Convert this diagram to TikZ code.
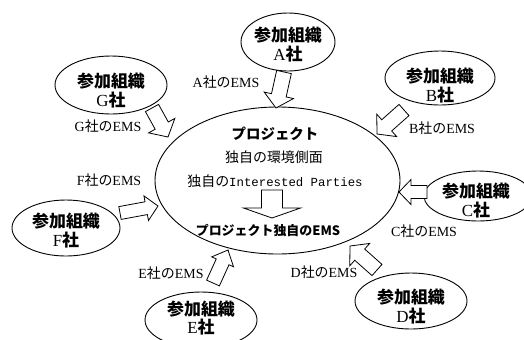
\documentclass[tikz,border=0pt]{standalone}
\usepackage{fontspec}
\setmainfont{Liberation Serif}
\newfontfamily\jp{Noto Sans CJK JP}
\newfontfamily\monofam{Liberation Mono}
\usetikzlibrary{shapes.geometric,calc}
\newcommand\jsha{{\jp 社}}
\newcommand\jno{{\jp の}}
\newcommand\bsha{{\jp\bfseries 社}}
\newcommand\sanka{{\jp\bfseries 参加組織}}
% block arrow: tail, tip, shaft half width, head half width, head length
\newcommand\blockarrow[5]{%
  \coordinate (ba-n) at ($(#2)!#5!(#1)$);
  \draw[barrow] ($(#1)!#3!90:(#2)$) -- ($(ba-n)!#3!-90:(#1)$) -- ($(ba-n)!#4!-90:(#1)$)
    -- (#2) -- ($(ba-n)!#4!90:(#1)$) -- ($(ba-n)!#3!90:(#1)$) -- ($(#1)!#3!-90:(#2)$) -- cycle;
}
\begin{document}
\begin{tikzpicture}[x=1bp,y=-1bp,
  org/.style={draw, ellipse, line width=0.9bp, inner sep=0pt},
  orgtxt/.style={font=\fontsize{17}{19}\selectfont, inner sep=0pt, align=center},
  lab/.style={font=\fontsize{14}{14}\selectfont, inner sep=0pt},
  ctxt/.style={inner sep=0pt},
  barrow/.style={draw, fill=white, line width=0.8bp, line join=miter}]
\useasboundingbox (0,0) rectangle (524,339);

% central ellipse
\node[org, minimum width=245bp, minimum height=147bp] (proj) at (277.5,180.5) {};
\node[ctxt, font=\jp\bfseries\fontsize{14.5}{14.5}\selectfont] (ptitle) at (275,134) {プロジェクト};
\node[ctxt, font=\jp\fontsize{14}{14}\selectfont] (aspect) at (274,157) {独自の環境側面};
\node[ctxt] (ip) at (275,181) {{\jp\fontsize{14}{14}\selectfont 独自の}{\monofam\fontsize{12.4}{14}\selectfont Interested Parties}};
\coordinate (cT) at (272,190);
\coordinate (cH) at (272,218);
\blockarrow{cT}{cH}{10.5bp}{28.5bp}{10bp}
\node[ctxt, font=\jp\bfseries\fontsize{13}{13}\selectfont] (pems) at (268,231) {プロジェクト独自のEMS};

% satellites
\node[org, minimum width=94bp, minimum height=58bp] (oA) at (288,42) {};
\node[orgtxt] (tA) at (288,45) {\sanka\\A\bsha};
\node[org, minimum width=110bp, minimum height=54bp] (oB) at (440,78) {};
\node[orgtxt] (tB) at (440,86) {\sanka\\B\bsha};
\node[org, minimum width=108bp, minimum height=50bp] (oC) at (478,196) {};
\node[orgtxt] (tC) at (476,201) {\sanka\\C\bsha};
\node[org, minimum width=112bp, minimum height=56bp] (oD) at (411,301) {};
\node[orgtxt] (tD) at (411,307) {\sanka\\D\bsha};
\node[org, minimum width=112bp, minimum height=56bp] (oE) at (201,320) {};
\node[orgtxt, font=\fontsize{17}{18}\selectfont] (tE) at (201,318) {\sanka\\E\bsha};
\node[org, minimum width=108bp, minimum height=56bp] (oF) at (66,228) {};
\node[orgtxt] (tF) at (66,231) {\sanka\\F\bsha};
\node[org, minimum width=112bp, minimum height=58bp] (oG) at (111,85) {};
\node[orgtxt] (tG) at (111,91) {\sanka\\G\bsha};

% labels
\node[lab] (lA) at (226,82) {A\jsha\jno EMS};
\node[lab] (lB) at (442,128) {B\jsha\jno EMS};
\node[lab] (lC) at (424,231) {C\jsha\jno EMS};
\node[lab] (lD) at (324,272) {D\jsha\jno EMS};
\node[lab] (lE) at (171,273) {E\jsha\jno EMS};
\node[lab] (lF) at (109,180) {F\jsha\jno EMS};
\node[lab] (lG) at (108,126) {G\jsha\jno EMS};

% arrows
\coordinate (aT) at (284,72);  \coordinate (aH) at (276,108);
\coordinate (bT) at (404,110); \coordinate (bH) at (377,134);
\coordinate (cT2) at (427,192); \coordinate (cH2) at (399,192);
\coordinate (dT) at (377,270); \coordinate (dH) at (350,246);
\coordinate (eT) at (213,283); \coordinate (eH) at (228,250);
\coordinate (fT) at (120,213); \coordinate (fH) at (158,206);
\coordinate (gT) at (152,108); \coordinate (gH) at (168,137);
\blockarrow{aT}{aH}{7.5bp}{15bp}{13bp}
\blockarrow{bT}{bH}{7.5bp}{15bp}{13bp}
\blockarrow{cT2}{cH2}{6.5bp}{12.5bp}{12bp}
\blockarrow{dT}{dH}{7.5bp}{15bp}{13bp}
\blockarrow{eT}{eH}{7bp}{12bp}{13bp}
\blockarrow{fT}{fH}{6.5bp}{12.5bp}{12bp}
\blockarrow{gT}{gH}{7.5bp}{15bp}{13bp}
\end{tikzpicture}
\end{document}
